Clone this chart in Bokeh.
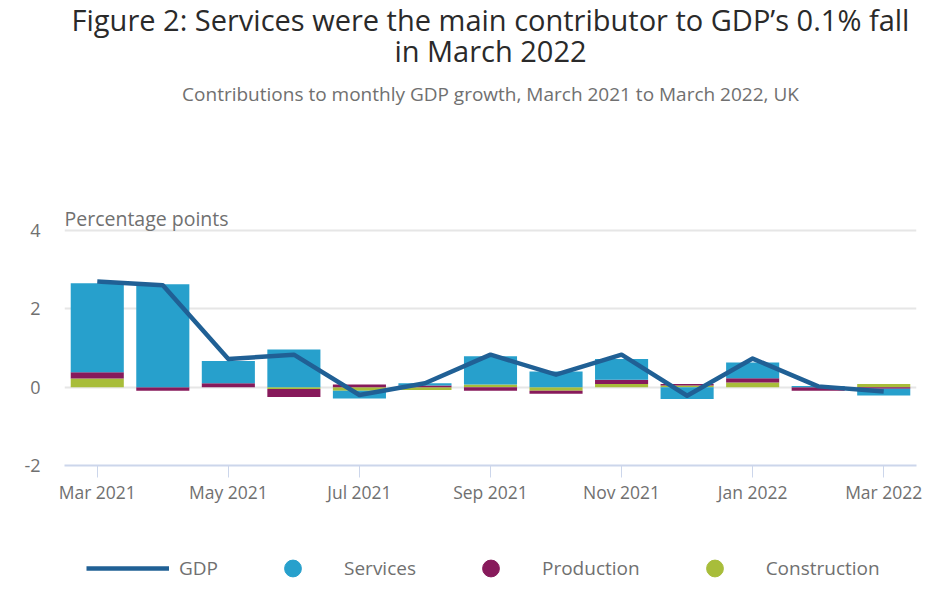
import numpy as np
from bokeh.plotting import figure
from bokeh.layouts import column
from bokeh.models import (Range1d, FixedTicker, Legend, LegendItem, Label,
                          ColumnDataSource)
from bokeh.embed import file_html
from bokeh.resources import INLINE

# ---------------- data ----------------
months = ["Mar 2021", "Apr 2021", "May 2021", "Jun 2021", "Jul 2021", "Aug 2021",
          "Sep 2021", "Oct 2021", "Nov 2021", "Dec 2021", "Jan 2022", "Feb 2022",
          "Mar 2022"]
services = [2.27, 2.63, 0.57, 0.96, -0.20, 0.06, 0.72, 0.40, 0.53, -0.30, 0.40, 0.03, -0.17]
production = [0.16, -0.09, 0.10, -0.20, 0.07, 0.04, -0.09, -0.08, 0.11, 0.04, 0.11, -0.09, -0.04]
construction = [0.22, 0.00, 0.00, -0.05, -0.09, -0.07, 0.07, -0.09, 0.08, 0.04, 0.12, 0.00, 0.08]
gdp = [2.70, 2.60, 0.72, 0.83, -0.20, 0.10, 0.83, 0.32, 0.83, -0.22, 0.73, 0.02, -0.11]
tick_labels = months[::2]
y_ticks = [-2, 0, 2, 4]
y_tick_labels = ["-2", "0", "2", "4"]

title_1 = "Figure 2: Services were the main contributor to GDP\u2019s 0.1% fall"
title_2 = "in March 2022"
subtitle = "Contributions to monthly GDP growth, March 2021 to March 2022, UK"
y_label = "Percentage points"

FONT = "Open Sans"
GREY = "#707070"
DARK = "#2a2a2a"
C_SERV = "#27a0cc"
C_PROD = "#871a5b"
C_CONS = "#a8bd3a"
C_GDP = "#206095"

# ---------------- geometry (pixels) ----------------
W, H_MAIN, H_LEG = 945, 520, 74
FRAME_L, FRAME_R, FRAME_B = 64, 916, 465      # frame edges in page pixels
PX_PER_UNIT = 39.17                           # vertical scale


def py_to_y(py):
    """page pixel row -> data value (frame bottom is y=-2)."""
    return -2 + (FRAME_B - py) / PX_PER_UNIT


x = np.arange(len(months))
x_mid = (len(months) - 1) / 2.0

series = [(construction, C_CONS), (production, C_PROD), (services, C_SERV)]
pos_base = np.zeros(len(months))
neg_base = np.zeros(len(months))

p = figure(width=W, height=H_MAIN, x_range=Range1d(-0.5, len(months) - 0.5),
           y_range=Range1d(-2, py_to_y(0)),
           output_backend="svg", toolbar_location=None, title=None,
           min_border_left=FRAME_L, min_border_right=W - FRAME_R, min_border_top=0,
           min_border_bottom=H_MAIN - FRAME_B)
p.outline_line_color = None
p.background_fill_color = "white"
p.border_fill_color = "white"

for vals, col in series:
    v = np.array(vals, dtype=float)
    bottom = np.where(v >= 0, pos_base, neg_base)
    top = bottom + v
    pos_base = np.where(v >= 0, top, pos_base)
    neg_base = np.where(v < 0, top, neg_base)
    src = ColumnDataSource(dict(x=x, bottom=bottom, top=top))
    p.vbar(x="x", bottom="bottom", top="top", width=0.81, source=src,
           fill_color=col, line_color=None)

p.line(x, gdp, line_color=C_GDP, line_width=4.5, line_join="round")

# axes
p.xaxis.ticker = FixedTicker(ticks=list(x[::2]))
p.xaxis.major_label_overrides = {int(t): lab for t, lab in zip(x[::2], tick_labels)}
p.xaxis.axis_line_color = "#ccd6eb"
p.xaxis.axis_line_width = 2
p.xaxis.major_tick_line_color = "#ccd6eb"
p.xaxis.major_tick_line_width = 1
p.xaxis.major_tick_out = 12
p.xaxis.major_tick_in = 0
p.xaxis.minor_tick_line_color = None
p.xaxis.major_label_text_font = FONT
p.xaxis.major_label_text_font_size = "17.5px"
p.xaxis.major_label_text_color = GREY
p.xaxis.major_label_standoff = 2
p.xgrid.grid_line_color = None

p.yaxis.ticker = FixedTicker(ticks=y_ticks)
p.yaxis.major_label_overrides = dict(zip(y_ticks, y_tick_labels))
p.yaxis.axis_line_color = None
p.yaxis.major_tick_line_color = None
p.yaxis.minor_tick_line_color = None
p.yaxis.major_label_text_font = FONT
p.yaxis.major_label_text_font_size = "18px"
p.yaxis.major_label_text_color = GREY
p.yaxis.major_label_standoff = 18
p.ygrid.ticker = FixedTicker(ticks=y_ticks)
p.ygrid.grid_line_color = "#e6e6e6"
p.ygrid.grid_line_width = 2

# texts
p.add_layout(Label(x=-0.5, y=py_to_y(218), text=y_label, text_font=FONT,
                   text_font_size="19.5px", text_color=GREY, text_baseline="middle",
                   text_align="left"))
p.add_layout(Label(x=x_mid, y=py_to_y(19), text=title_1, text_font=FONT,
                   text_font_size="29px", text_color=DARK, text_baseline="middle",
                   text_align="center"))
p.add_layout(Label(x=x_mid, y=py_to_y(50), text=title_2, text_font=FONT,
                   text_font_size="29px", text_color=DARK, text_baseline="middle",
                   text_align="center"))
p.add_layout(Label(x=x_mid, y=py_to_y(93), text=subtitle, text_font=FONT,
                   text_font_size="19px", text_color=GREY, text_baseline="middle",
                   text_align="center"))

# ---------------- legend strip ----------------
lg = figure(width=W, height=H_LEG, x_range=Range1d(0, 1), y_range=Range1d(0, 1),
            output_backend="svg", toolbar_location=None, title=None,
            x_axis_location=None, y_axis_location=None, min_border=0)
lg.outline_line_color = None
lg.grid.grid_line_color = None
lg.background_fill_color = "white"
lg.border_fill_color = "white"

nan = np.array([np.nan])
gdp_r = lg.line(x=nan, y=nan, line_color=C_GDP, line_width=4.5)
serv_r = lg.scatter(x=nan, y=nan, size=17, marker="circle", color=C_SERV)
prod_r = lg.scatter(x=nan, y=nan, size=17, marker="circle", color=C_PROD)
cons_r = lg.scatter(x=nan, y=nan, size=17, marker="circle", color=C_CONS)

legend = Legend(items=[LegendItem(label="GDP", renderers=[gdp_r]),
                       LegendItem(label="Services", renderers=[serv_r]),
                       LegendItem(label="Production", renderers=[prod_r]),
                       LegendItem(label="Construction", renderers=[cons_r])],
                orientation="horizontal", location=(22, 5),
                glyph_width=83, glyph_height=42, label_standoff=10, spacing=33,
                label_text_font=FONT, label_text_font_size="19px",
                label_text_color=GREY, border_line_color=None,
                background_fill_alpha=0, margin=0, padding=0)
lg.add_layout(legend, "center")

layout = column(p, lg, spacing=0)
open("out.html", "w").write(file_html(layout, INLINE))
